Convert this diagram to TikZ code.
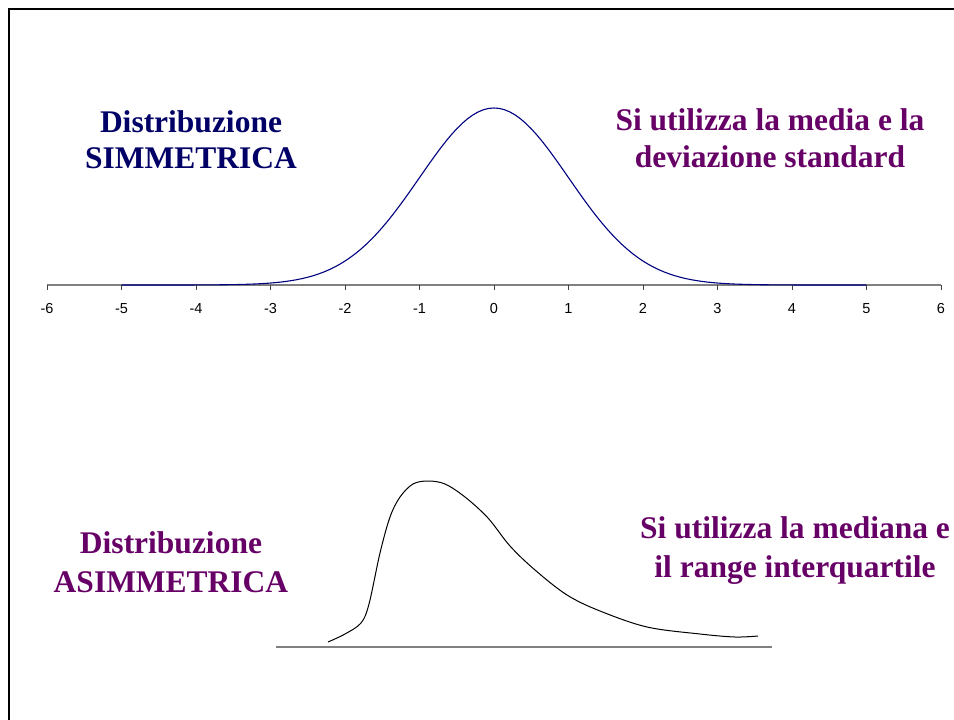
\documentclass[tikz,border=0pt]{standalone}
\usepackage{fontspec}
\setmainfont{Liberation Serif}
\newfontfamily\arialf{Liberation Sans}
\definecolor{navytxt}{RGB}{0,0,102}
\definecolor{purptxt}{RGB}{102,0,102}
\definecolor{curveblue}{RGB}{0,0,128}
\tikzset{
  titletxt/.style={font=\fontsize{31.5}{36}\selectfont\bfseries, anchor=base, inner sep=0pt},
  ticklbl/.style={font=\arialf\fontsize{14.5}{17}\selectfont, anchor=base, inner sep=0pt},
  axisline/.style={draw=gray, line width=1.2pt},
  tickmark/.style={draw=black!75, line width=1pt},
}
\begin{document}
\begin{tikzpicture}[x=1pt,y=-1pt]
\useasboundingbox (0,0) rectangle (954,720);
% frame
\draw[line width=2.6pt] (9,720) -- (9,9) -- (954,9);
% texts
\node[titletxt, text=navytxt] (s1) at (191,132) {Distribuzione};
\node[titletxt, text=navytxt] (s2) at (191,168) {SIMMETRICA};
\node[titletxt, text=purptxt] (m1) at (770,130) {Si utilizza la media e la};
\node[titletxt, text=purptxt] (m2) at (770,167) {deviazione standard};
\node[titletxt, text=purptxt] (a1) at (171,553) {Distribuzione};
\node[titletxt, text=purptxt] (a2) at (171,592) {ASIMMETRICA};
\node[titletxt, text=purptxt] (r1) at (795,538) {Si utilizza la mediana e};
\node[titletxt, text=purptxt] (r2) at (795,577) {il range interquartile};
% axis
\coordinate (axl) at (47,285);
\coordinate (axr) at (941,285);
\draw[axisline] (axl) -- (axr);
\foreach \i in {-6,...,6} {
  \coordinate (tk\i) at ({494+74.5*\i},285);
  \draw[tickmark] (tk\i) -- ++(0,5);
  \node[ticklbl] (tl\i) at ({494+74.5*\i},313) {\i};
}
% normal curve
\draw[curveblue, line width=1.1pt] plot[domain=-5:5, samples=141] ({494+74.5*\x}, {285-177*exp(-\x*\x/2)});
% skewed
\coordinate (bl) at (276,647);
\coordinate (br) at (772,647);
\draw[axisline, line width=1.6pt] (bl) -- (br);
\draw[black, line width=1pt] plot[smooth, tension=0.55] coordinates {
 (328,642) (345,634) (361,623) (369,604) (380,553) (390,517) (400,497) (413,484) (428,481)
 (445,484) (465,497) (488,518) (510,546) (535,570) (567,595) (600,611) (647,627) (700,634) (735,637) (758,636)};
\end{tikzpicture}
\end{document}
